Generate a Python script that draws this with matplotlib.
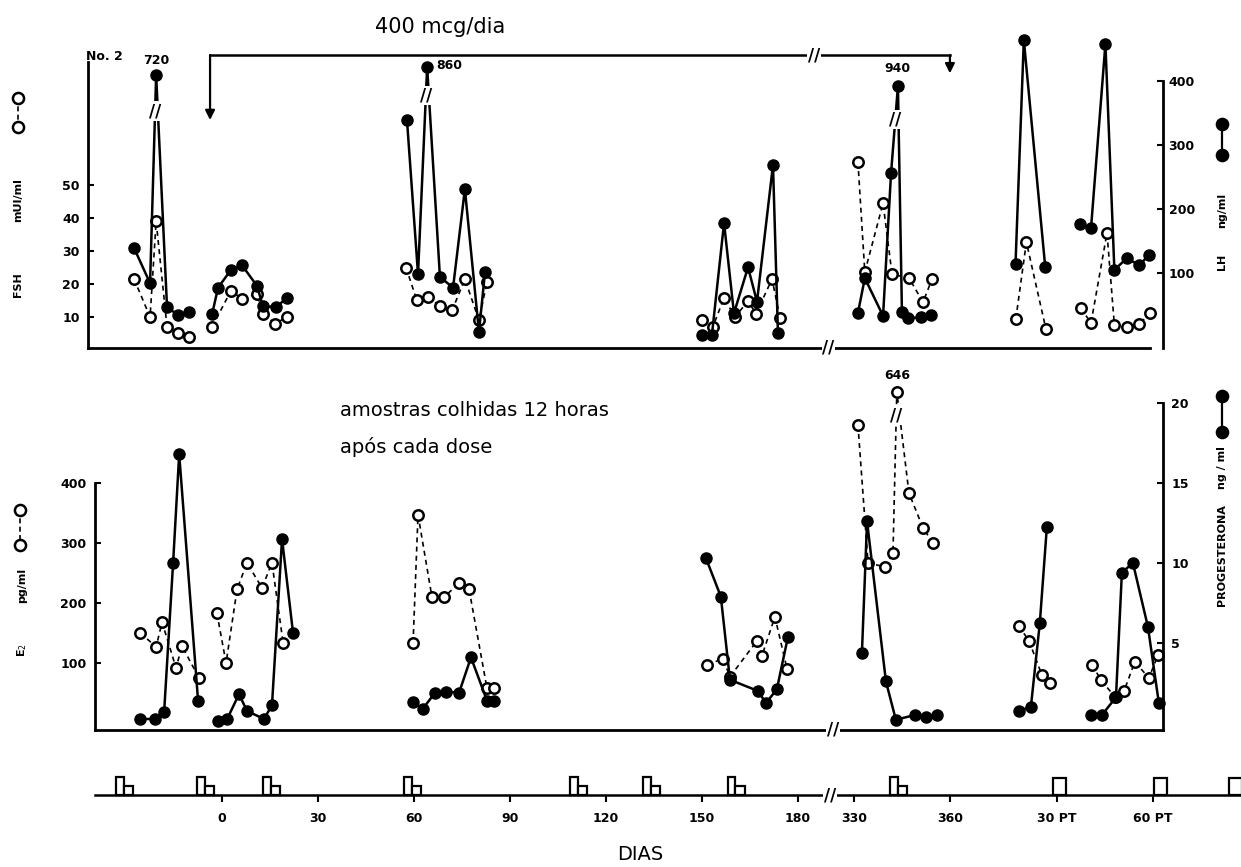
import matplotlib
matplotlib.use('Agg')
import matplotlib.pyplot as plt
from matplotlib.lines import Line2D
import numpy as np

plt.rcParams['font.family'] = 'DejaVu Sans'

# x values are in plot "days" (after the break 330 -> 197.5, PT segment shifted)
# ---------- top panel: FSH (open) mUI/ml, LH (filled) ng/ml ----------
fsh_x = [[-27.5, -22.5, -20.6, -17.2, -13.75, -10.3],
         [-3.1, 2.8, 6.25, 10.9, 12.8, 16.6, 20.3],
         [57.5, 60.9, 64.4, 68.1, 71.9, 75.9, 80.3, 82.8],
         [150, 153.4, 156.9, 160.3, 164.4, 166.9, 171.9, 174.4],
         [198.75, 200.9, 206.6, 209.4, 214.7, 219.1, 221.9],
         [248.1, 251.4, 257.5],
         [268.4, 271.6, 276.6, 278.9, 282.8, 286.75, 290]]
fsh_y = [[21.5, 10, 39, 7, 5, 4],
         [7, 18, 15.5, 17, 11, 8, 10],
         [25, 15, 16, 13.3, 12, 21.5, 9, 20.6],
         [9, 7, 15.8, 10, 14.8, 11, 21.5, 9.7],
         [57, 23.6, 44.5, 23, 21.8, 14.5, 21.5],
         [9.4, 32.7, 6.4],
         [12.7, 8.2, 35.5, 7.6, 7, 7.9, 11.2]]

# peaks above the break are kept at their drawn height (labels hold real value)
lh_x = [[-27.5, -22.5, -20.6, -17.2, -13.75, -10.3],
        [-3.1, -1.25, 2.8, 6.25, 10.9, 12.8, 16.9, 20.3],
        [57.8, 61.25, 64.1, 68.1, 72.2, 75.9, 80.3, 82.2],
        [150, 153.1, 156.9, 160, 164.4, 167.2, 172.2, 173.75],
        [198.75, 200.9, 206.6, 209.1, 211.25, 212.5, 214.4, 218.4, 221.6],
        [248, 250.6, 257.3],
        [268.1, 271.6, 276.1, 278.9, 282.8, 286.75, 289.6]]
lh_y = [[139, 84, 409, 47, 34, 39],
        [36, 77, 105, 112, 80, 48, 47, 61],
        [339, 98, 422, 94, 77, 231, 8, 102],
        [3, 3, 178, 37, 109, 55, 269, 6],
        [37.5, 92, 33, 256, 392, 39, 29, 31, 34],
        [114, 464, 109],
        [177, 170, 458, 105, 123, 112, 128]]
lh_peak_group = [0, 2, 4]
lh_peak_idx = [2, 2, 4]
lh_peak_label = ['720', '860', '940']
lh_break_y = [353, 377, 340]

# ---------- bottom panel: E2 (open) pg/ml, progesterona (filled) ng/ml ----------
e2_x = [[-25.6, -20.6, -18.75, -14.4, -12.5, -7.2],
        [-1.6, 1.25, 4.7, 7.8, 12.5, 15.6, 19.1],
        [59.7, 61.25, 65.6, 69.4, 74.1, 77.2, 82.8, 85],
        [151.6, 156.6, 158.75, 167.2, 168.75, 172.8, 176.6],
        [198.75, 201.9, 207.2, 209.7, 210.9, 214.7, 219.1, 222.2],
        [249, 252.2, 256.25, 258.75],
        [271.9, 274.7, 279.1, 281.9, 285.3, 289.7, 292.5]]
e2_y = [[150, 127, 168, 92, 128, 75],
        [183, 100, 223, 267, 225, 267, 133],
        [133, 347, 210, 210, 233, 223, 58, 58],
        [97, 107, 77, 137, 112, 177, 90],
        [497, 267, 260, 283, 552, 383, 325, 300],
        [162, 137, 80, 67],
        [97, 72, 43, 53, 102, 75, 113]]
e2_peak_group = [4]
e2_peak_idx = [4]
e2_peak_label = ['646']
e2_break_y = [513]

prog_x = [[-25.6, -20.9, -18.1, -15.3, -13.4, -7.5],
          [-1.25, 1.6, 5.3, 7.8, 13.1, 15.6, 18.75, 22.2],
          [59.7, 62.8, 66.6, 70, 74.1, 77.8, 82.8, 85],
          [151.25, 155.9, 158.75, 167.5, 170, 173.4, 176.9],
          [200, 201.6, 207.5, 210.6, 216.6, 220, 223.4],
          [249, 252.8, 255.6, 257.8],
          [271.6, 275, 279.4, 281.25, 284.7, 289.4, 292.8]]
prog_y = [[0.25, 0.25, 0.7, 10, 16.8, 1.4],
          [0.1, 0.25, 1.8, 0.75, 0.25, 1.1, 11.5, 5.6],
          [1.3, 0.9, 1.9, 1.95, 1.9, 4.1, 1.4, 1.4],
          [10.3, 7.9, 2.7, 2.0, 1.25, 2.1, 5.4],
          [4.4, 12.6, 2.6, 0.2, 0.5, 0.4, 0.5],
          [0.75, 1.0, 6.25, 12.25],
          [0.5, 0.5, 1.6, 9.4, 10, 6, 1.25]]

# ---------- dosing strip ----------
dose_x = [-33.1, -7.8, 12.8, 56.9, 108.75, 131.6, 158, 208.75]
dose_big_x = [259.7, 291.25, 314.7]
day_ticks = [0, 30, 60, 90, 120, 150, 180, 197.5, 227.5, 261, 291]
day_labels = ['0', '30', '60', '90', '120', '150', '180', '330', '360', '30 PT', '60 PT']

W, H = 1241, 867


def px_box(x0, y0, x1, y1):
    return [x0 / W, 1 - y1 / H, (x1 - x0) / W, (y1 - y0) / H]


def fx(x):
    return x / W


def fy(y):
    return 1 - y / H


XL = (-41.9, 294.1)
tickfont = dict(fontsize=9, fontweight='bold')

fig = plt.figure(figsize=(12.41, 8.67), dpi=100)

open_kw = dict(color='k', lw=1.2, ls=(0, (3, 2.5)), marker='o', ms=7.5, mfc='white',
               mec='k', mew=1.8, clip_on=False)
fill_kw = dict(color='k', lw=1.8, ls='-', marker='o', ms=8, mfc='k', mec='k', clip_on=False)


def break_mark(ax, x, y):
    ax.text(x, y, '//', ha='center', va='center', fontsize=12, fontweight='bold',
            bbox=dict(fc='white', ec='none', pad=0.5), zorder=5, clip_on=False)


def peak_breaks(ax, xs, ys, groups, idxs, labels, brk_y, offsets):
    for g, i, lab, by, off in zip(groups, idxs, labels, brk_y, offsets):
        x0, y0 = xs[g][i - 1], ys[g][i - 1]
        x1, y1 = xs[g][i], ys[g][i]
        bx = x0 + (by - y0) / (y1 - y0) * (x1 - x0)
        break_mark(ax, bx, by)
        ax.annotate(lab, (x1, y1), xytext=off, textcoords='offset points',
                    ha='center', va='bottom', fontsize=9, fontweight='bold',
                    annotation_clip=False)


# ================= top panel =================
ax1 = fig.add_axes(px_box(88, 62, 1163, 348))
ax1.set_xlim(*XL)
ax1.set_ylim(0.6, 87.3)
ax1r = ax1.twinx()
ax1r.set_ylim(-17.2, 429.7)

for xs, ys in zip(fsh_x, fsh_y):
    ax1.plot(xs, ys, **open_kw)
for xs, ys in zip(lh_x, lh_y):
    ax1r.plot(xs, ys, **fill_kw)
peak_breaks(ax1r, lh_x, lh_y, lh_peak_group, lh_peak_idx, lh_peak_label, lh_break_y,
            [(0, 6), (16, -4), (0, 8)])

for a in (ax1, ax1r):
    a.spines['top'].set_visible(False)
ax1r.spines['left'].set_visible(False)
ax1.spines['right'].set_visible(False)
ax1.spines['bottom'].set_bounds(XL[0], 290)
ax1r.spines['bottom'].set_visible(False)
ax1r.spines['right'].set_bounds(-17.2, 400)
for a in (ax1, ax1r):
    for s in a.spines.values():
        s.set_linewidth(2)
break_mark(ax1, 189.5, 0.6)

ax1.set_xticks([])
ax1.set_yticks([10, 20, 30, 40, 50])
ax1.tick_params(axis='y', direction='in', length=4, width=1.5, pad=6, labelsize=9)
ax1r.set_yticks([100, 200, 300, 400])
ax1r.tick_params(axis='y', direction='in', length=4, width=1.5, pad=4, labelsize=9)
for lab in ax1.get_yticklabels() + ax1r.get_yticklabels():
    lab.set_fontweight('bold')

# dosage arrow
arr_y = 440.6
ax1r.plot([-3.75, 227.5], [arr_y, arr_y], color='k', lw=1.8, clip_on=False)
ax1r.annotate('', xy=(-3.75, 339), xytext=(-3.75, arr_y),
              arrowprops=dict(arrowstyle='-|>', lw=1.6, color='k', mutation_scale=14,
                              shrinkA=0, shrinkB=0), annotation_clip=False)
ax1r.annotate('', xy=(227.5, 412), xytext=(227.5, arr_y),
              arrowprops=dict(arrowstyle='-|>', lw=1.6, color='k', mutation_scale=14,
                              shrinkA=0, shrinkB=0), annotation_clip=False)
break_mark(ax1r, 185, arr_y)

fig.text(fx(440), fy(27), '400 mcg/dia', ha='center', va='center', fontsize=15)
fig.text(fx(104), fy(57), 'No. 2', ha='center', va='center', fontsize=9, fontweight='bold')

# ================= bottom panel =================
ax2 = fig.add_axes(px_box(88, 400, 1163, 730))
ax2.set_xlim(*XL)
ax2.set_ylim(-11.7, 538.3)
ax2r = ax2.twinx()
ax2r.set_ylim(-0.44, 20.19)

for xs, ys in zip(e2_x, e2_y):
    ax2.plot(xs, ys, **open_kw)
for xs, ys in zip(prog_x, prog_y):
    ax2r.plot(xs, ys, **fill_kw)
peak_breaks(ax2, e2_x, e2_y, e2_peak_group, e2_peak_idx, e2_peak_label, e2_break_y,
            [(0, 7)])

for a in (ax2, ax2r):
    a.spines['top'].set_visible(False)
ax2r.spines['left'].set_visible(False)
ax2.spines['right'].set_visible(False)
ax2r.spines['bottom'].set_visible(False)
ax2.spines['left'].set_position(('data', -39.7))
ax2.spines['left'].set_bounds(-11.7, 400)
ax2.spines['bottom'].set_bounds(-39.7, XL[1])
ax2r.spines['right'].set_bounds(-0.44, 20)
for a in (ax2, ax2r):
    for s in a.spines.values():
        s.set_linewidth(2)
break_mark(ax2, 191, -11.7)

ax2.set_xticks([])
ax2.set_yticks([100, 200, 300, 400])
ax2.tick_params(axis='y', direction='in', length=4, width=1.5, pad=6, labelsize=9)
ax2r.set_yticks([5, 10, 15, 20])
ax2r.tick_params(axis='y', direction='in', length=4, width=1.5, pad=6, labelsize=9)
for lab in ax2.get_yticklabels() + ax2r.get_yticklabels():
    lab.set_fontweight('bold')

fig.text(fx(340), fy(410), 'amostras colhidas 12 horas', ha='left', va='center', fontsize=14)
fig.text(fx(340), fy(447), 'após cada dose', ha='left', va='center', fontsize=14)

# ================= dosing strip =================
ax3 = fig.add_axes(px_box(88, 765, 1241, 800))
ax3.set_xlim(XL[0], (1241 - 222) / 3.2)
ax3.set_ylim(-5, 30)
ax3.bar(dose_x, [18] * len(dose_x), width=2.4, align='edge', bottom=0,
        facecolor='white', edgecolor='k', lw=1.6, clip_on=False)
ax3.bar([x + 2.4 for x in dose_x], [9] * len(dose_x), width=3.0, align='edge', bottom=0,
        facecolor='white', edgecolor='k', lw=1.6, clip_on=False)
ax3.bar(dose_big_x, [17] * len(dose_big_x), width=4.2, align='edge', bottom=0,
        facecolor='white', edgecolor='k', lw=1.6, clip_on=False)
for s in ('top', 'right', 'left'):
    ax3.spines[s].set_visible(False)
ax3.spines['bottom'].set_position(('data', 0))
ax3.spines['bottom'].set_bounds(-39.7, 318.4)
ax3.spines['bottom'].set_linewidth(1.8)
ax3.set_yticks([])
ax3.set_xticks(day_ticks)
ax3.set_xticklabels(day_labels, **tickfont)
ax3.tick_params(axis='x', direction='out', length=5, width=1.5, pad=7)
break_mark(ax3, 190, 0)

fig.text(fx(640), fy(855), 'DIAS', ha='center', va='center', fontsize=14)

# ================= side labels and symbols =================
side = dict(rotation=90, ha='center', va='center', fontsize=8, fontweight='bold')
fig.text(fx(18), fy(285), 'FSH', **side)
fig.text(fx(18), fy(200), 'mUI/ml', **side)
fig.text(fx(1222), fy(262), 'LH', **side)
fig.text(fx(1222), fy(210), 'ng/ml', **side)
fig.text(fx(22), fy(650), 'E$_2$', **side)
fig.text(fx(22), fy(585), 'pg/ml', **side)
fig.text(fx(1222), fy(555), 'PROGESTERONA', **side)
fig.text(fx(1222), fy(468), 'ng / ml', **side)


def symbol(x, y0, y1, filled):
    kw = dict(color='k', marker='o', ms=8, mec='k', mew=1.8,
              mfc='k' if filled else 'white', lw=1.6 if filled else 1.2,
              ls='-' if filled else (0, (3, 2)), transform=fig.transFigure)
    fig.add_artist(Line2D([fx(x), fx(x)], [fy(y0), fy(y1)], **kw))


symbol(18, 98, 127, False)
symbol(1222, 124, 155, True)
symbol(20, 510, 545, False)
symbol(1222, 396, 432, True)

fig.savefig('out.png', dpi=100, facecolor='white')
